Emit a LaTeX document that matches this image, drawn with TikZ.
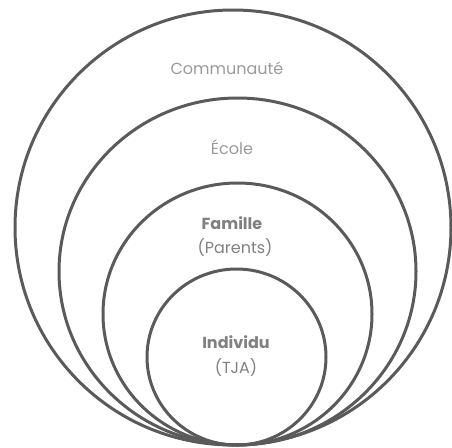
\documentclass[tikz,border=0pt]{standalone}
\usepackage{fontspec}
\setmainfont{Poppins}
\usetikzlibrary{shapes.geometric}
\definecolor{ring}{HTML}{5A5A5A}
\definecolor{lighttxt}{HTML}{9A9A9A}
\definecolor{darktxt}{HTML}{808080}
\begin{document}
\begin{tikzpicture}[x=1pt,y=-1pt,
  ringstyle/.style={ellipse,draw=ring,line width=3pt,inner sep=0pt},
  lbl/.style={font=\fontsize{16}{18}\selectfont,text=lighttxt,inner sep=0pt,align=center},
  lblb/.style={font=\fontsize{16}{18}\selectfont\bfseries,text=darktxt,inner sep=0pt,align=center}]
\useasboundingbox (0,0) rectangle (452,447);
\node[ringstyle,minimum width=436pt,minimum height=435pt] (comm) at (233,227.5) {};
\node[ringstyle,minimum width=357pt,minimum height=347pt] (ecole) at (237.5,271.5) {};
\node[ringstyle,minimum width=269pt,minimum height=262pt] (fam) at (237.5,314) {};
\node[ringstyle,minimum width=179pt,minimum height=176pt] (ind) at (236.5,357) {};
\node[lbl] (tcomm) at (227,68) {Communauté};
\node[lbl] (tecole) at (232,147) {École};
\node[lblb] (tfam) at (232,223) {Famille};
\node[lbl,text=darktxt] (tpar) at (235,248) {(Parents)};
\node[lblb] (tind) at (236,342) {Individu};
\node[lbl,text=darktxt] (ttja) at (236,368) {(TJA)};
\end{tikzpicture}
\end{document}
